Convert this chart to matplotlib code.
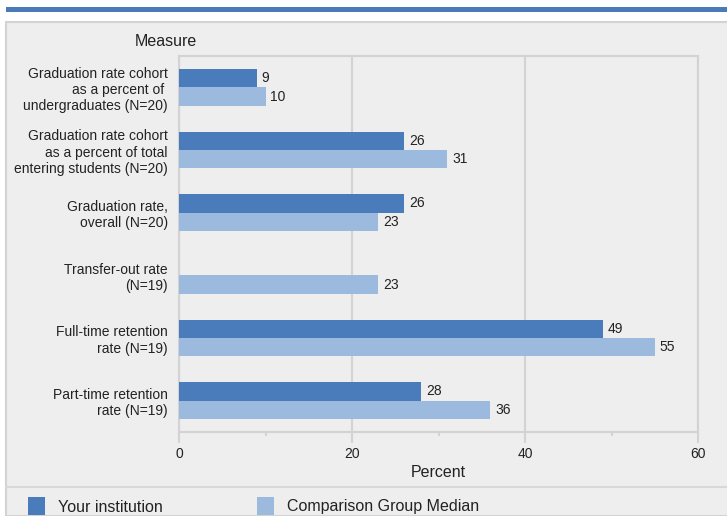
import matplotlib
matplotlib.use("Agg")
import matplotlib.pyplot as plt
from matplotlib.patches import Rectangle
from matplotlib.lines import Line2D
import numpy as np

plt.rcParams['font.family'] = ['Liberation Sans', 'DejaVu Sans']

categories = [
    "Graduation rate cohort\nas a percent of \nundergraduates (N=20)",
    "Graduation rate cohort\nas a percent of total\nentering students (N=20)",
    "Graduation rate,\noverall (N=20)",
    "Transfer-out rate\n(N=19)",
    "Full-time retention\nrate (N=19)",
    "Part-time retention\nrate (N=19)",
]
your_institution = [9, 26, 26, None, 49, 28]
comparison_median = [10, 31, 23, 23, 55, 36]
series_names = ["Your institution", "Comparison Group Median"]
xticks = [0, 20, 40, 60]

dark = "#4a7bbb"
light = "#9cbade"
grid_c = "#d3d3d3"
bg = "#eeeeee"

W, H = 727, 516
fig = plt.figure(figsize=(W / 100, H / 100), dpi=100)
fig.patch.set_facecolor("white")

# panel background
fig.patches.append(Rectangle((6 / W, 0), 1.0, 1 - 21.5 / H, transform=fig.transFigure,
                             facecolor=bg, edgecolor=grid_c, linewidth=1.5, zorder=0))
# top blue band
fig.patches.append(Rectangle((6 / W, 1 - 11.5 / H), 1.0, 4.5 / H, transform=fig.transFigure,
                             facecolor="#4a7ab8", edgecolor="none", zorder=1))
# separator line above legend
fig.lines.append(Line2D([6 / W, 1.0], [1 - 487 / H, 1 - 487 / H], transform=fig.transFigure,
                        color="#d8d8d8", linewidth=1.5, zorder=1))

ax = fig.add_axes([179 / W, 1 - 432 / H, (698 - 179) / W, (432 - 56) / H])
ax.set_zorder(2)
ax.set_facecolor(bg)

n = len(categories)
y = np.arange(n)
h = 0.295
yi = [np.nan if v is None else v for v in your_institution]
ax.barh(y - h / 2, yi, height=h, color=dark, zorder=3)
ax.barh(y + h / 2, comparison_median, height=h, color=light, zorder=3)

fs = 10
for yy, v in zip(y, your_institution):
    if v is not None:
        ax.annotate(str(v), (v, yy - h / 2), xytext=(3.5, 0), textcoords="offset points",
                    va="center", ha="left", fontsize=fs, color="#222222")
for yy, v in zip(y, comparison_median):
    ax.annotate(str(v), (v, yy + h / 2), xytext=(3.5, 0), textcoords="offset points",
                va="center", ha="left", fontsize=fs, color="#222222")

ax.set_ylim(n - 0.5, -0.5)
ax.set_xlim(0, 60)
ax.set_yticks(y)
ax.set_yticklabels(categories, fontsize=fs, color="#222222")
ax.set_xticks(xticks)
ax.set_xticklabels([str(t) for t in xticks], fontsize=fs, color="#222222")
ax.set_xticks([10, 30, 50], minor=True)
ax.tick_params(axis="y", length=0, pad=8)
ax.tick_params(axis="x", which="major", length=8, width=1.5, color=grid_c, pad=3)
ax.tick_params(axis="x", which="minor", length=3, width=1.5, color=grid_c)
ax.grid(axis="x", which="major", color=grid_c, linewidth=1.5, zorder=0)
for s in ax.spines.values():
    s.set_color(grid_c)
    s.set_linewidth(1.5)

ax.set_xlabel("Percent", fontsize=11.5, color="#222222", labelpad=3)
fig.text(135 / W, 1 - 41 / H, "Measure", fontsize=11.5, color="#222222", va="center", ha="left")

# legend
for (x0, tx), c, name in zip([(28, 58), (257, 287)], [dark, light], series_names):
    fig.patches.append(Rectangle((x0 / W, 1 - 515 / H), 17 / W, 18 / H, transform=fig.transFigure,
                                 facecolor=c, edgecolor="none", zorder=3))
    fig.text(tx / W, 1 - 507 / H, name, fontsize=11.5, color="#222222", va="center", ha="left")

fig.savefig("out.png", dpi=100, facecolor=fig.get_facecolor())
